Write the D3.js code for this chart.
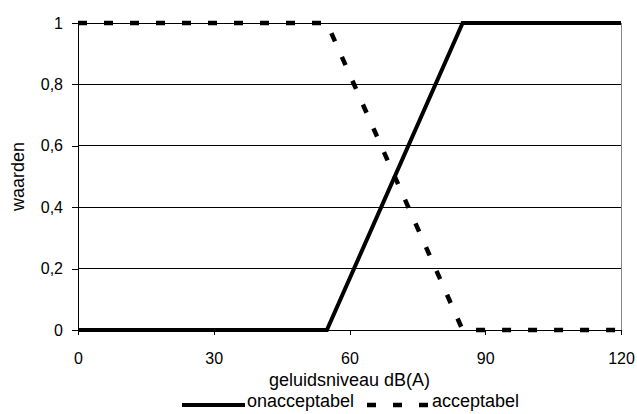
<!DOCTYPE html>
<html>
<head>
<meta charset="utf-8">
<script src="https://cdn.jsdelivr.net/npm/d3@7"></script>
<style>
  body { margin: 0; background: #fff; }
  svg { display: block; font-family: "Liberation Sans", Arial, sans-serif; }
</style>
</head>
<body>
<svg id="chart" width="637" height="414"></svg>
<script>
// Geluidsniveau (dB(A)) en lidmaatschapswaarden
const xTicks = [0, 30, 60, 90, 120];
const yTicks = [0, 0.2, 0.4, 0.6, 0.8, 1];
const onacceptabelX = [0, 55, 85, 120];
const onacceptabelY = [0, 0, 1, 1];
const acceptabelX = [0, 55, 85, 120];
const acceptabelY = [1, 1, 0, 0];
const seriesNames = ["onacceptabel", "acceptabel"];

const svg = d3.select("#chart");
const margin = { left: 78, right: 16, top: 23, bottom: 84 };
const W = 637, H = 414;
const x = d3.scaleLinear().domain([0, 120]).range([margin.left, W - margin.right]);
const y = d3.scaleLinear().domain([0, 1]).range([H - margin.bottom, margin.top]);

const fmt = d => d3.format("~g")(d).replace(".", ",");

// horizontal gridlines
svg.append("g").selectAll("line").data(yTicks.filter(d => d > 0)).join("line")
  .attr("x1", x(0)).attr("x2", x(120))
  .attr("y1", d => y(d)).attr("y2", d => y(d))
  .attr("stroke", "#000").attr("stroke-width", 1).attr("shape-rendering", "crispEdges");

// right border of plot area
svg.append("line")
  .attr("x1", x(120)).attr("x2", x(120)).attr("y1", y(1)).attr("y2", y(0))
  .attr("stroke", "#888").attr("stroke-width", 1).attr("shape-rendering", "crispEdges");

// axes
const xAxis = d3.axisBottom(x).tickValues(xTicks).tickSize(5).tickPadding(18).tickFormat(fmt);
const yAxis = d3.axisLeft(y).tickValues(yTicks).tickSize(6).tickPadding(9).tickFormat(fmt);

const gx = svg.append("g").attr("transform", `translate(0,${y(0)})`).call(xAxis);
const gy = svg.append("g").attr("transform", `translate(${x(0)},0)`).call(yAxis);
[gx, gy].forEach(g => {
  g.select(".domain").attr("stroke", "#000").attr("shape-rendering", "crispEdges");
  g.selectAll(".tick line").attr("stroke", "#000").attr("shape-rendering", "crispEdges");
  g.selectAll("text").attr("fill", "#000").style("font-size", "16px")
    .style("font-family", '"Liberation Sans", Arial, sans-serif');
});
gx.select(".domain").attr("d", `M${x(0)},0.5H${x(120)}`);
gy.select(".domain").attr("d", `M0.5,${y(1)}V${y(0)}`);

// axis titles
svg.append("text")
  .attr("x", (x(0) + x(120)) / 2).attr("y", 386)
  .attr("text-anchor", "middle").style("font-size", "18px")
  .text("geluidsniveau dB(A)");
svg.append("text")
  .attr("transform", `translate(24,${(y(0) + y(1)) / 2}) rotate(-90)`)
  .attr("text-anchor", "middle").style("font-size", "18px")
  .text("waarden");

// series
const line = d3.line().x(d => x(d[0])).y(d => y(d[1]));
const solidData = d3.zip(onacceptabelX, onacceptabelY);
const dashData = d3.zip(acceptabelX, acceptabelY);

svg.append("path").datum(dashData).attr("d", line)
  .attr("fill", "none").attr("stroke", "#000").attr("stroke-width", 4.5)
  .attr("stroke-dasharray", "9,17");
svg.append("path").datum(solidData).attr("d", line)
  .attr("fill", "none").attr("stroke", "#000").attr("stroke-width", 4)
  .attr("stroke-linejoin", "miter");

// legend
const legY = 405;
const leg = svg.append("g");
leg.append("line").attr("x1", 182).attr("x2", 245).attr("y1", legY).attr("y2", legY)
  .attr("stroke", "#000").attr("stroke-width", 4);
leg.append("text").attr("x", 247).attr("y", 407).style("font-size", "18px").text(seriesNames[0]);
leg.append("line").attr("x1", 367).attr("x2", 430).attr("y1", legY).attr("y2", legY)
  .attr("stroke", "#000").attr("stroke-width", 4.5).attr("stroke-dasharray", "9,17");
leg.append("text").attr("x", 432).attr("y", 407).style("font-size", "18px").text(seriesNames[1]);
</script>
</body>
</html>
